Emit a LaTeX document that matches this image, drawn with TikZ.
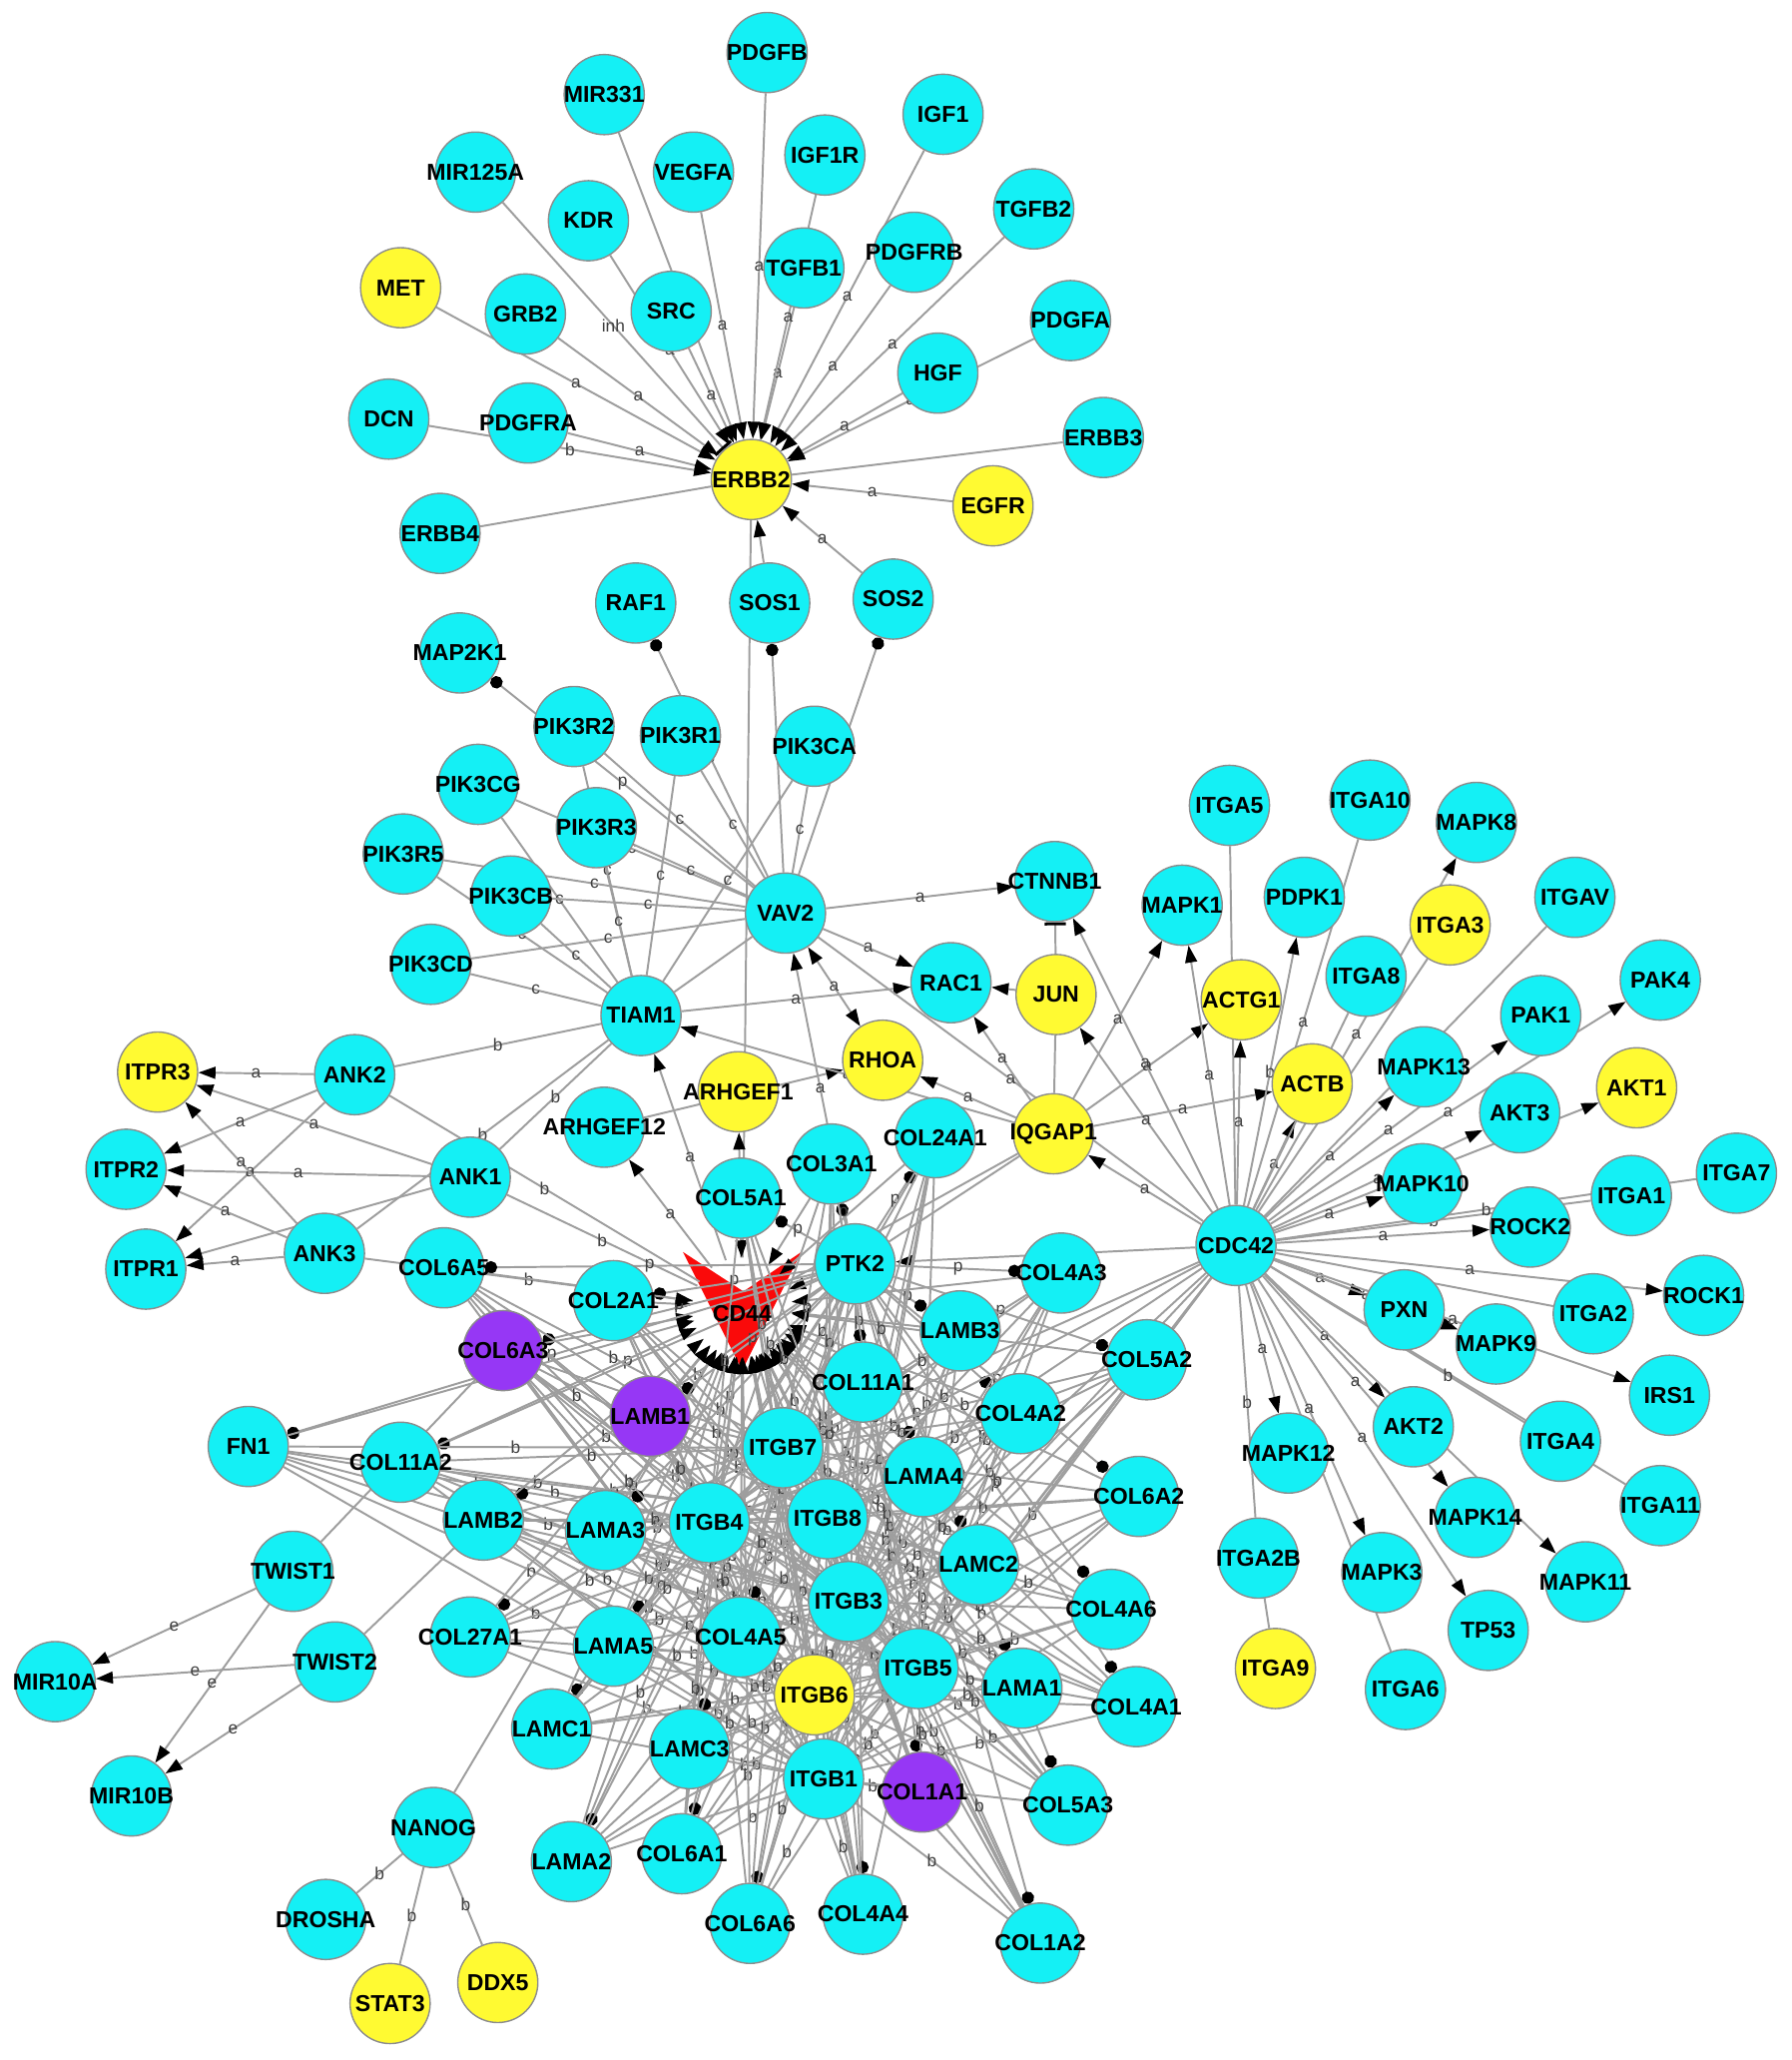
\documentclass[tikz,border=0pt]{standalone}
\usepackage{fontspec}
\setsansfont{Liberation Sans}
\usetikzlibrary{arrows.meta}
\definecolor{gcyan}{RGB}{20,240,245}
\definecolor{gyellow}{RGB}{255,250,50}
\definecolor{gpurple}{RGB}{150,55,245}
\definecolor{gred}{RGB}{250,10,10}
\definecolor{glink}{RGB}{158,158,158}
\pgfdeclarelayer{vshape}
\pgfdeclarelayer{links}
\pgfsetlayers{vshape,links,main}

\begin{document}
\begin{tikzpicture}[x=0.02cm, y=-0.02cm,
  gene/.style={circle, draw=black!45, line width=0.6pt, fill=gcyan,
               minimum size=1.22cm, inner sep=0pt, text=black,
               font={\fontsize{10}{12}\sffamily\bfseries\selectfont}},
  hub/.style={circle, minimum size=1.5cm, inner sep=0pt},
  lnk/.style={draw=glink, line width=0.85pt},
  act/.style={-{Triangle[length=2.6mm,width=1.8mm,color=black]}},
  dual/.style={{Triangle[length=2.6mm,width=1.8mm,color=black]}-{Triangle[length=2.6mm,width=1.8mm,color=black]}},
  bnd/.style={{Circle[length=1.9mm,color=black]}-},
  inhib/.style={-{Bar[width=3.2mm,line width=1.3pt,color=black]}},
  lab/.style={font={\fontsize{7.5}{9}\sffamily\selectfont}, text=black!75, inner sep=0.5pt}
]
\useasboundingbox (0,0) rectangle (1364,1568);

% Cyan genes
\foreach \n/\x/\y in {PDGFB/584/40, MIR331/460/72, IGF1/718/87, IGF1R/628/118,
  VEGFA/528/131, MIR125A/362/131, KDR/448/168, TGFB2/787/159, TGFB1/612/204,
  PDGFRB/696/192, GRB2/400/239, SRC/511/237, PDGFA/815/244, HGF/714/284,
  DCN/296/319, PDGFRA/402/322, ERBB3/840/333, ERBB4/335/406, RAF1/484/459,
  SOS1/586/459, SOS2/680/456, MAP2K1/350/497, PIK3R2/437/553, PIK3R1/518/560,
  PIK3CA/620/568, PIK3CG/364/597, PIK3R3/454/630, PIK3R5/307/650, PIK3CB/389/682,
  VAV2/598/695, CTNNB1/803/671, PIK3CD/328/734, TIAM1/488/773, RAC1/724/748,
  ITGA5/936/613, ITGA10/1043/609, MAPK8/1124/626, MAPK1/900/689, PDPK1/993/683,
  ITGAV/1199/683, PAK4/1264/746, ITGA8/1040/743, PAK1/1173/773, MAPK13/1084/812,
  ANK2/270/818, ARHGEF12/460/858, AKT3/1157/847, ITPR2/96/890, ANK1/358/896,
  COL3A1/633/886, COL24A1/712/866, COL5A1/564/912, MAPK10/1083/901, ITGA1/1242/910,
  ITGA7/1322/893, ROCK2/1165/934, CDC42/941/948, ITPR1/111/966, ANK3/247/954,
  COL6A5/338/965, PTK2/651/962, COL4A3/808/969, COL2A1/467/990, ROCK1/1297/986,
  PXN/1069/997, ITGA2/1213/1000, LAMB3/731/1013, COL5A2/873/1035, MAPK9/1139/1023,
  COL11A1/657/1052, IRS1/1271/1062, COL4A2/777/1076, AKT2/1076/1086, FN1/189/1101,
  COL11A2/305/1113, ITGB7/596/1102, MAPK12/981/1106, ITGA4/1188/1097, LAMA4/703/1124,
  COL6A2/867/1139, ITGA11/1264/1146, LAMB2/368/1157, LAMA3/461/1165, ITGB4/540/1159,
  ITGB8/630/1156, MAPK14/1123/1155, TWIST1/223/1196, ITGA2B/958/1186, LAMC2/745/1191,
  MAPK11/1207/1204, MAPK3/1052/1197, ITGB3/646/1219, COL4A6/846/1225, COL27A1/358/1246,
  LAMA5/467/1253, COL4A5/564/1246, TP53/1133/1241, TWIST2/255/1265, ITGB5/699/1270,
  LAMA1/778/1285, MIR10A/42/1280, ITGA6/1070/1286, COL4A1/865/1299, LAMC1/420/1316,
  LAMC3/525/1331, ITGB1/627/1354, MIR10B/100/1367, COL5A3/813/1374, NANOG/330/1391,
  LAMA2/435/1417, COL6A1/519/1411, DROSHA/248/1461, COL6A6/571/1464, COL4A4/657/1457,
  COL1A2/792/1479}
  \node[gene] (\n) at (\x,\y) {\makebox[0pt]{\n}};

% Yellow genes
\foreach \n/\x/\y in {MET/305/219, ERBB2/572/365, EGFR/756/385, JUN/804/757,
  ITGA3/1104/704, ACTG1/945/761, ACTB/999/825, AKT1/1246/828, ITPR3/120/816,
  RHOA/672/807, ARHGEF1/562/831, IQGAP1/802/863, ITGB6/620/1290, ITGA9/971/1270,
  DDX5/379/1509, STAT3/297/1525}
  \node[gene, fill=gyellow] (\n) at (\x,\y) {\makebox[0pt]{\n}};

% Purple genes
\foreach \n/\x/\y in {COL6A3/383/1028, LAMB1/495/1078, COL1A1/702/1364}
  \node[gene, fill=gpurple] (\n) at (\x,\y) {\makebox[0pt]{\n}};

% CD44 (red chevron)
\node[hub] (CD44) at (565,995) {};
\begin{pgfonlayer}{vshape}
  \fill[gred] (520,953) -- (566,983) -- (610,953) -- (565,1043) -- cycle;
\end{pgfonlayer}
\node[font={\fontsize{10}{12}\sffamily\bfseries\selectfont}] (CD44txt) at (565,1000) {CD44};

\begin{pgfonlayer}{links}
% ERBB2 hub
\foreach \s in {MET,GRB2,KDR,SRC,MIR331,VEGFA,PDGFB,TGFB1,IGF1R,IGF1,PDGFRB,TGFB2,PDGFA,HGF,PDGFRA,EGFR,SOS2}
  \draw[lnk,act] (\s) -- node[lab]{a} (ERBB2);
\draw[lnk,act] (DCN) -- node[lab]{b} (ERBB2);
\draw[lnk,inhib] (MIR125A) -- node[lab]{inh} (ERBB2);
\draw[lnk,act] (SOS1) -- (ERBB2);
\draw[lnk] (ERBB3) -- (ERBB2);
\draw[lnk] (ERBB4) -- (ERBB2);
\draw[lnk] (CD44) -- (ERBB2);

% VAV2 and TIAM1
\foreach \p in {PIK3R2,PIK3R1,PIK3CA,PIK3CG,PIK3R3,PIK3R5,PIK3CB,PIK3CD}{
  \draw[lnk] (\p) -- node[lab]{c} (VAV2);
  \draw[lnk] (\p) -- node[lab]{c} (TIAM1);
}
\draw[lnk,bnd] (MAP2K1) -- node[lab]{p} (VAV2);
\draw[lnk,bnd] (RAF1) -- node[lab]{c} (VAV2);
\draw[lnk,bnd] (SOS1) -- (VAV2);
\draw[lnk,bnd] (SOS2) -- node[lab]{a} (VAV2);
\draw[lnk] (TIAM1) -- (VAV2);
\draw[lnk,act] (VAV2) -- node[lab]{a} (CTNNB1);
\draw[lnk,act] (VAV2) -- node[lab]{a} (RAC1);
\draw[lnk,act] (TIAM1) -- node[lab]{a} (RAC1);
\draw[lnk,act] (PTK2) -- node[lab]{a} (VAV2);
\draw[lnk,dual] (VAV2) -- node[lab]{a} (RHOA);
\draw[lnk] (VAV2) -- node[lab]{a} (CDC42);

% ankyrins
\foreach \k in {ANK1,ANK2,ANK3}{
  \foreach \t in {ITPR1,ITPR2,ITPR3}
    \draw[lnk,act] (\k) -- node[lab]{a} (\t);
  \draw[lnk] (\k) -- node[lab]{b} (TIAM1);
  \draw[lnk] (\k) -- node[lab]{b} (CD44);
}

% CD44 targets
\draw[lnk,act] (CD44) -- node[lab]{a} (TIAM1);
\draw[lnk,act] (CD44) -- node[lab]{a} (ARHGEF12);
\draw[lnk,act] (CD44) -- node[lab]{a} (ARHGEF1);
\draw[lnk,act] (PTK2) -- (CD44);
\draw[lnk,act] (NANOG) -- (CD44);
\draw[lnk,act] (ARHGEF12) -- node[lab]{a} (RHOA);

% IQGAP1 and JUN
\draw[lnk,inhib] (JUN) -- (CTNNB1);
\draw[lnk,act] (JUN) -- (RAC1);
\draw[lnk] (IQGAP1) -- (JUN);
\foreach \t in {RAC1,TIAM1,RHOA,MAPK1,ACTG1,ACTB}
  \draw[lnk,act] (IQGAP1) -- node[lab]{a} (\t);
\draw[lnk] (IQGAP1) -- (PTK2);
\draw[lnk] (IQGAP1) -- (CD44);

% CDC42
\foreach \t/\l in {CTNNB1/a, JUN/a, MAPK1/a, ACTG1/a, ACTB/a, PDPK1/b, MAPK8/a,
  MAPK13/a, PAK1/a, PAK4/a, AKT3/a, AKT1/a, MAPK10/a, ROCK2/a, ROCK1/a, PXN/a,
  MAPK9/a, IRS1/a, AKT2/a, MAPK14/a, MAPK11/a, TP53/a, MAPK3/a, MAPK12/a,
  IQGAP1/a, PTK2/p}
  \draw[lnk,act] (CDC42) -- node[lab]{\l} (\t);
\foreach \t/\l in {ITGA5/a, ITGA10/a, ITGA3/a, ITGA8/a, ITGAV/a, ITGA1/b, ITGA7/b,
  ITGA2/a, ITGA4/b, ITGA11/b, ITGA6/a, ITGA2B/b}
  \draw[lnk] (CDC42) -- node[lab]{\l} (\t);
\draw[lnk] (ITGA2B) -- (ITGA9);

% NANOG and TWIST
\foreach \t in {DROSHA,STAT3,DDX5}
  \draw[lnk] (NANOG) -- node[lab]{b} (\t);
\foreach \s in {TWIST1,TWIST2}{
  \foreach \t in {MIR10A,MIR10B}
    \draw[lnk,act] (\s) -- node[lab]{e} (\t);
}
\draw[lnk] (TWIST1) -- (COL6A3);
\draw[lnk] (TWIST2) -- (LAMB2);

% matrix cluster
\foreach \e in {COL2A1,COL6A3,LAMB1,COL11A2,FN1,LAMB2,LAMA3,COL27A1,LAMA5,LAMC1,
  LAMC3,LAMA2,COL6A1,COL6A6,COL4A4,COL1A2,COL1A1,COL5A3,COL4A1,LAMA1,COL4A6,LAMC2,
  COL6A2,LAMA4,COL4A2,COL5A2,LAMB3,COL11A1,COL4A3,COL24A1,COL3A1,COL5A1,COL6A5,COL4A5}{
  \draw[lnk,bnd] (\e) -- node[lab]{p} (PTK2);
  \draw[lnk,act] (\e) -- (CD44);
  \foreach \b in {ITGB1,ITGB3,ITGB4,ITGB5,ITGB6,ITGB7,ITGB8}
    \draw[lnk] (\e) -- node[lab]{b} (\b);
}
\foreach \b in {ITGB1,ITGB3,ITGB4,ITGB5,ITGB6,ITGB7,ITGB8}{
  \draw[lnk,act] (\b) -- (CD44);
  \draw[lnk] (\b) -- (CDC42);
}
\end{pgfonlayer}
\end{tikzpicture}
\end{document}
